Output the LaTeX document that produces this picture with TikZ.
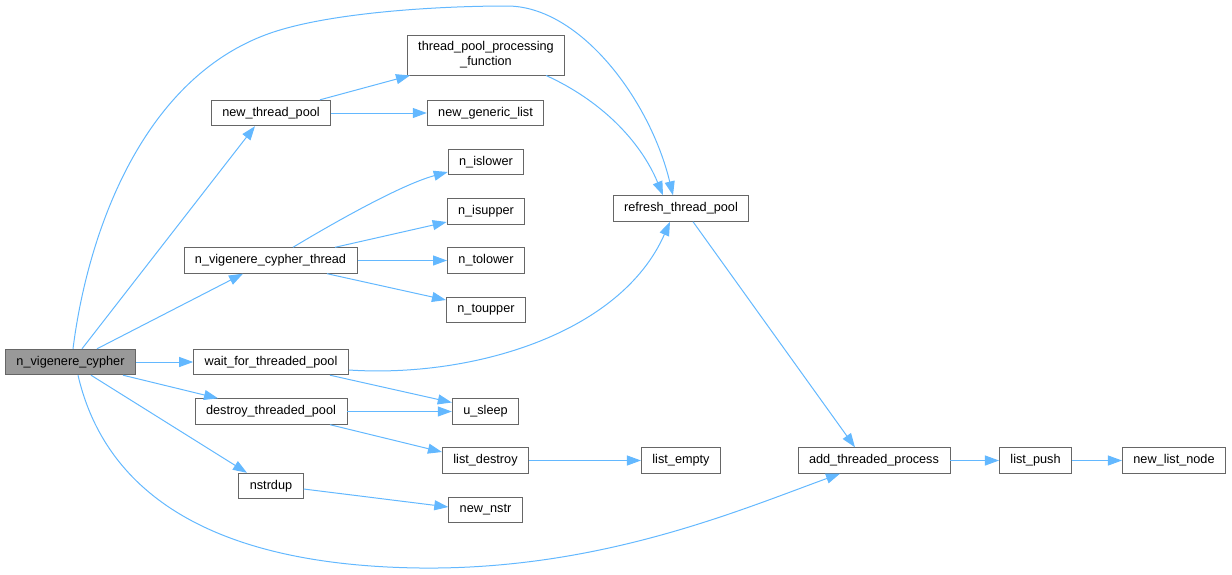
\documentclass[tikz,border=0pt]{standalone}
\usepackage{fontspec}
\setmainfont{Liberation Sans}
\usetikzlibrary{arrows.meta}

\begin{document}
\begin{tikzpicture}[x=1pt,y=-1pt,
  fnnode/.style={draw=boxgray,fill=white,line width=0.9pt,inner xsep=11pt,inner ysep=0pt,minimum height=25.5pt,font=\fontsize{12.7}{14.7}\selectfont},
  callarrow/.style={draw=edgeblue,line width=1pt,-{Triangle[length=14pt,width=10pt,fill=edgeblue]}}]
\definecolor{edgeblue}{HTML}{63B8FF}
\definecolor{boxgray}{HTML}{666666}
\definecolor{maingray}{HTML}{999999}
\useasboundingbox (0,0) rectangle (1232,574);
% functions
\node[fnnode,fill=maingray] (nvc) at (70.5,362) {n\_vigenere\_cypher};
\node[fnnode,minimum height=40pt,align=center,inner xsep=10.5pt] (tppf) at (486,55) {thread\_pool\_processing\\\_function};
  \foreach \nm/\x/\y/\txt in {ntp/271/113/new\_thread\_pool, nvct/270.5/260.5/n\_vigenere\_cypher\_thread,
    wftp/271/362/wait\_for\_threaded\_pool, dtp/271/411.5/destroy\_threaded\_pool, nstrdup/271/486/nstrdup,
    ngl/485.5/113/new\_generic\_list, nisl/486/162/n\_islower, nisu/486/211.5/n\_isupper,
    ntol/486/260.5/n\_tolower, ntou/486/310/n\_toupper, usl/485.5/411.5/u\_sleep,
    ldes/485.5/460.5/list\_destroy, nnstr/485.5/510/new\_nstr, rtp/681/208.5/refresh\_thread\_pool,
    lemp/681/460.5/list\_empty, atp/874/460.5/add\_threaded\_process, lpush/1035.5/460.5/list\_push,
    nln/1174/460.5/new\_list\_node}
  {  \node[fnnode] (\nm) at (\x,\y) {\txt};}
% straight calls
  \foreach \src/\dst in {nvc/wftp,ntp/ngl,nvct/ntol,dtp/usl,ldes/lemp,atp/lpush,lpush/nln}
  {  \draw[callarrow] (\src) -- (\dst);}
\draw[callarrow] ([xshift=11.5]nvc.north) -- ([xshift=-16]ntp.south);
\draw[callarrow] ([xshift=26.5]nvc.north) -- ([xshift=-27.5]nvct.south);
\draw[callarrow] ([xshift=52.5]nvc.south) -- ([xshift=-53]dtp.north);
\draw[callarrow] ([xshift=20.5]nvc.south) -- ([xshift=-24]nstrdup.north);
\draw[callarrow] ([xshift=49]ntp.north) -- ([xshift=-76]tppf.south);
\draw[callarrow] ([xshift=64.5]nvct.north) -- ([yshift=-10.5]nisu.west);
\draw[callarrow] ([xshift=56.5]nvct.south) -- ([yshift=10]ntou.west);
\draw[callarrow] ([xshift=59]wftp.south) -- ([yshift=9]usl.west);
\draw[callarrow] ([xshift=59]dtp.south) -- ([yshift=8.5]ldes.west);
\draw[callarrow] ([yshift=-3]nstrdup.east) -- ([yshift=3]nnstr.west);
\draw[callarrow] ([xshift=12]rtp.south) -- ([xshift=-19]atp.north);
% curved calls
\draw[callarrow] ([xshift=22.5]nvct.north) .. controls (330,225) and (400,185) .. ([yshift=-10]nisl.west);
\draw[callarrow] ([xshift=60]tppf.south) .. controls (600,100) and (640,140) .. ([xshift=-18]rtp.north);
\draw[callarrow] ([yshift=-8]wftp.east) .. controls (470,378) and (620,335) .. ([xshift=-11]rtp.south);
\draw[callarrow] ([xshift=2.5]nvc.north) .. controls (88,230) and (145,70) .. (280,30)
  .. controls (340,12) and (440,6) .. (507,6) .. controls (580,6) and (650,100) .. ([xshift=-8]rtp.north);
\draw[callarrow] ([xshift=7.5]nvc.south) .. controls (100,470) and (180,565) .. (420,568)
  .. controls (600,570) and (740,510) .. ([xshift=-34]atp.south);
\end{tikzpicture}
\end{document}
